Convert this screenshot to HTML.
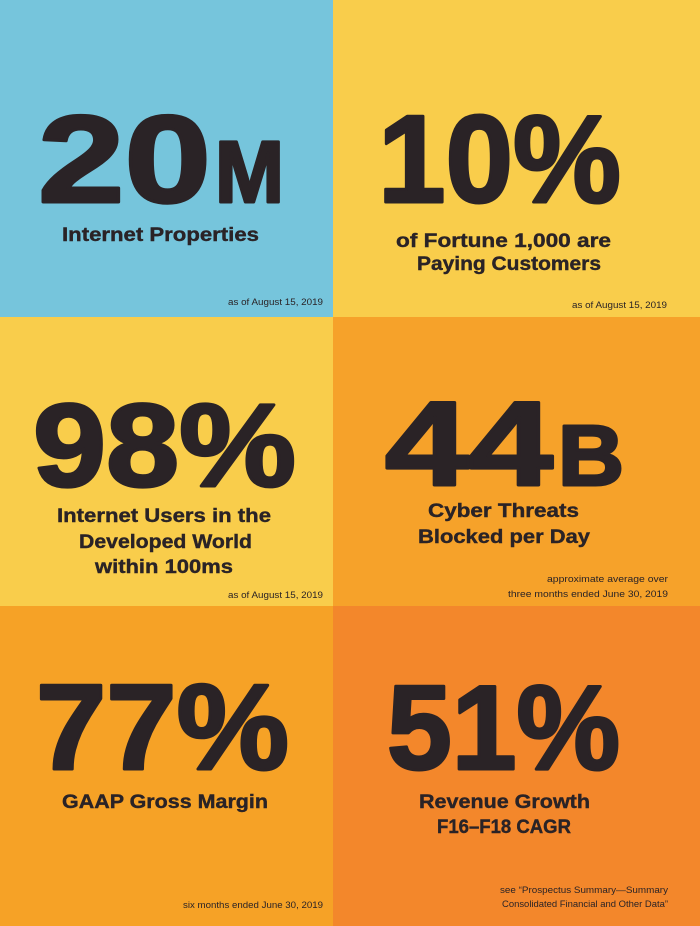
<!DOCTYPE html>
<html><head><meta charset="utf-8"><style>
html,body{margin:0;padding:0;width:700px;height:926px;overflow:hidden}
svg{display:block}
text{font-family:"Liberation Sans",sans-serif;fill:#2a2326}
.b{font-weight:bold;stroke:#2a2326;stroke-width:0.4}
.big{stroke-width:3;stroke-linejoin:round}
</style></head><body>
<svg width="700" height="926" viewBox="0 0 700 926" xmlns="http://www.w3.org/2000/svg">
<rect x="0" y="0" width="333" height="317" fill="#76c5dc"/>
<rect x="333" y="0" width="367" height="317" fill="#f9cd4b"/>
<rect x="0" y="317" width="333" height="289" fill="#f9cd4b"/>
<rect x="333" y="317" width="367" height="289" fill="#f6a22a"/>
<rect x="0" y="606" width="333" height="320" fill="#f6a226"/>
<rect x="333" y="606" width="367" height="320" fill="#f3872b"/>

<!-- 20M -->
<text class="b big" x="38" y="202" font-size="124" textLength="173" lengthAdjust="spacingAndGlyphs">20</text>
<text class="b big" x="215" y="202" font-size="87" textLength="69" lengthAdjust="spacingAndGlyphs">M</text>
<text class="b" x="62" y="241" font-size="19.5" textLength="197" lengthAdjust="spacingAndGlyphs">Internet Properties</text>
<text x="228" y="305" font-size="9" textLength="95" lengthAdjust="spacingAndGlyphs">as of August 15, 2019</text>

<!-- 10% -->
<text class="b big" x="378" y="202" font-size="124" textLength="243" lengthAdjust="spacingAndGlyphs">10%</text>
<text class="b" x="396" y="247" font-size="19.5" textLength="215" lengthAdjust="spacingAndGlyphs">of Fortune 1,000 are</text>
<text class="b" x="417" y="270" font-size="19.5" textLength="184" lengthAdjust="spacingAndGlyphs">Paying Customers</text>
<text x="572" y="308" font-size="9" textLength="95" lengthAdjust="spacingAndGlyphs">as of August 15, 2019</text>

<!-- 98% -->
<text class="b big" x="33" y="486" font-size="118" textLength="263" lengthAdjust="spacingAndGlyphs">98%</text>
<text class="b" x="57" y="522" font-size="19.5" textLength="214" lengthAdjust="spacingAndGlyphs">Internet Users in the</text>
<text class="b" x="79" y="548" font-size="19.5" textLength="173" lengthAdjust="spacingAndGlyphs">Developed World</text>
<text class="b" x="95" y="573" font-size="19.5" textLength="138" lengthAdjust="spacingAndGlyphs">within 100ms</text>
<text x="228" y="598" font-size="9" textLength="95" lengthAdjust="spacingAndGlyphs">as of August 15, 2019</text>

<!-- 44B -->
<text class="b big" x="385" y="485" font-size="120" textLength="168" lengthAdjust="spacingAndGlyphs">44</text>
<text class="b big" x="558" y="485" font-size="85" textLength="66" lengthAdjust="spacingAndGlyphs">B</text>
<text class="b" x="428" y="517" font-size="19.5" textLength="151" lengthAdjust="spacingAndGlyphs">Cyber Threats</text>
<text class="b" x="418" y="543" font-size="19.5" textLength="172" lengthAdjust="spacingAndGlyphs">Blocked per Day</text>
<text x="547" y="582" font-size="9" textLength="121" lengthAdjust="spacingAndGlyphs">approximate average over</text>
<text x="508" y="597" font-size="9" textLength="160" lengthAdjust="spacingAndGlyphs">three months ended June 30, 2019</text>

<!-- 77% -->
<text class="b big" x="36" y="769" font-size="122" textLength="253" lengthAdjust="spacingAndGlyphs">77%</text>
<text class="b" x="62" y="808" font-size="19.5" textLength="206" lengthAdjust="spacingAndGlyphs">GAAP Gross Margin</text>
<text x="183" y="908" font-size="9" textLength="140" lengthAdjust="spacingAndGlyphs">six months ended June 30, 2019</text>

<!-- 51% -->
<text class="b big" x="387" y="769" font-size="120" textLength="233" lengthAdjust="spacingAndGlyphs">51%</text>
<text class="b" x="419" y="808" font-size="19.5" textLength="171" lengthAdjust="spacingAndGlyphs">Revenue Growth</text>
<text class="b" x="437" y="833" font-size="19.5" textLength="134" lengthAdjust="spacingAndGlyphs">F16–F18 CAGR</text>
<text x="500" y="893" font-size="9" textLength="168" lengthAdjust="spacingAndGlyphs">see “Prospectus Summary—Summary</text>
<text x="502" y="907" font-size="9" textLength="166" lengthAdjust="spacingAndGlyphs">Consolidated Financial and Other Data”</text>
</svg>
</body></html>
